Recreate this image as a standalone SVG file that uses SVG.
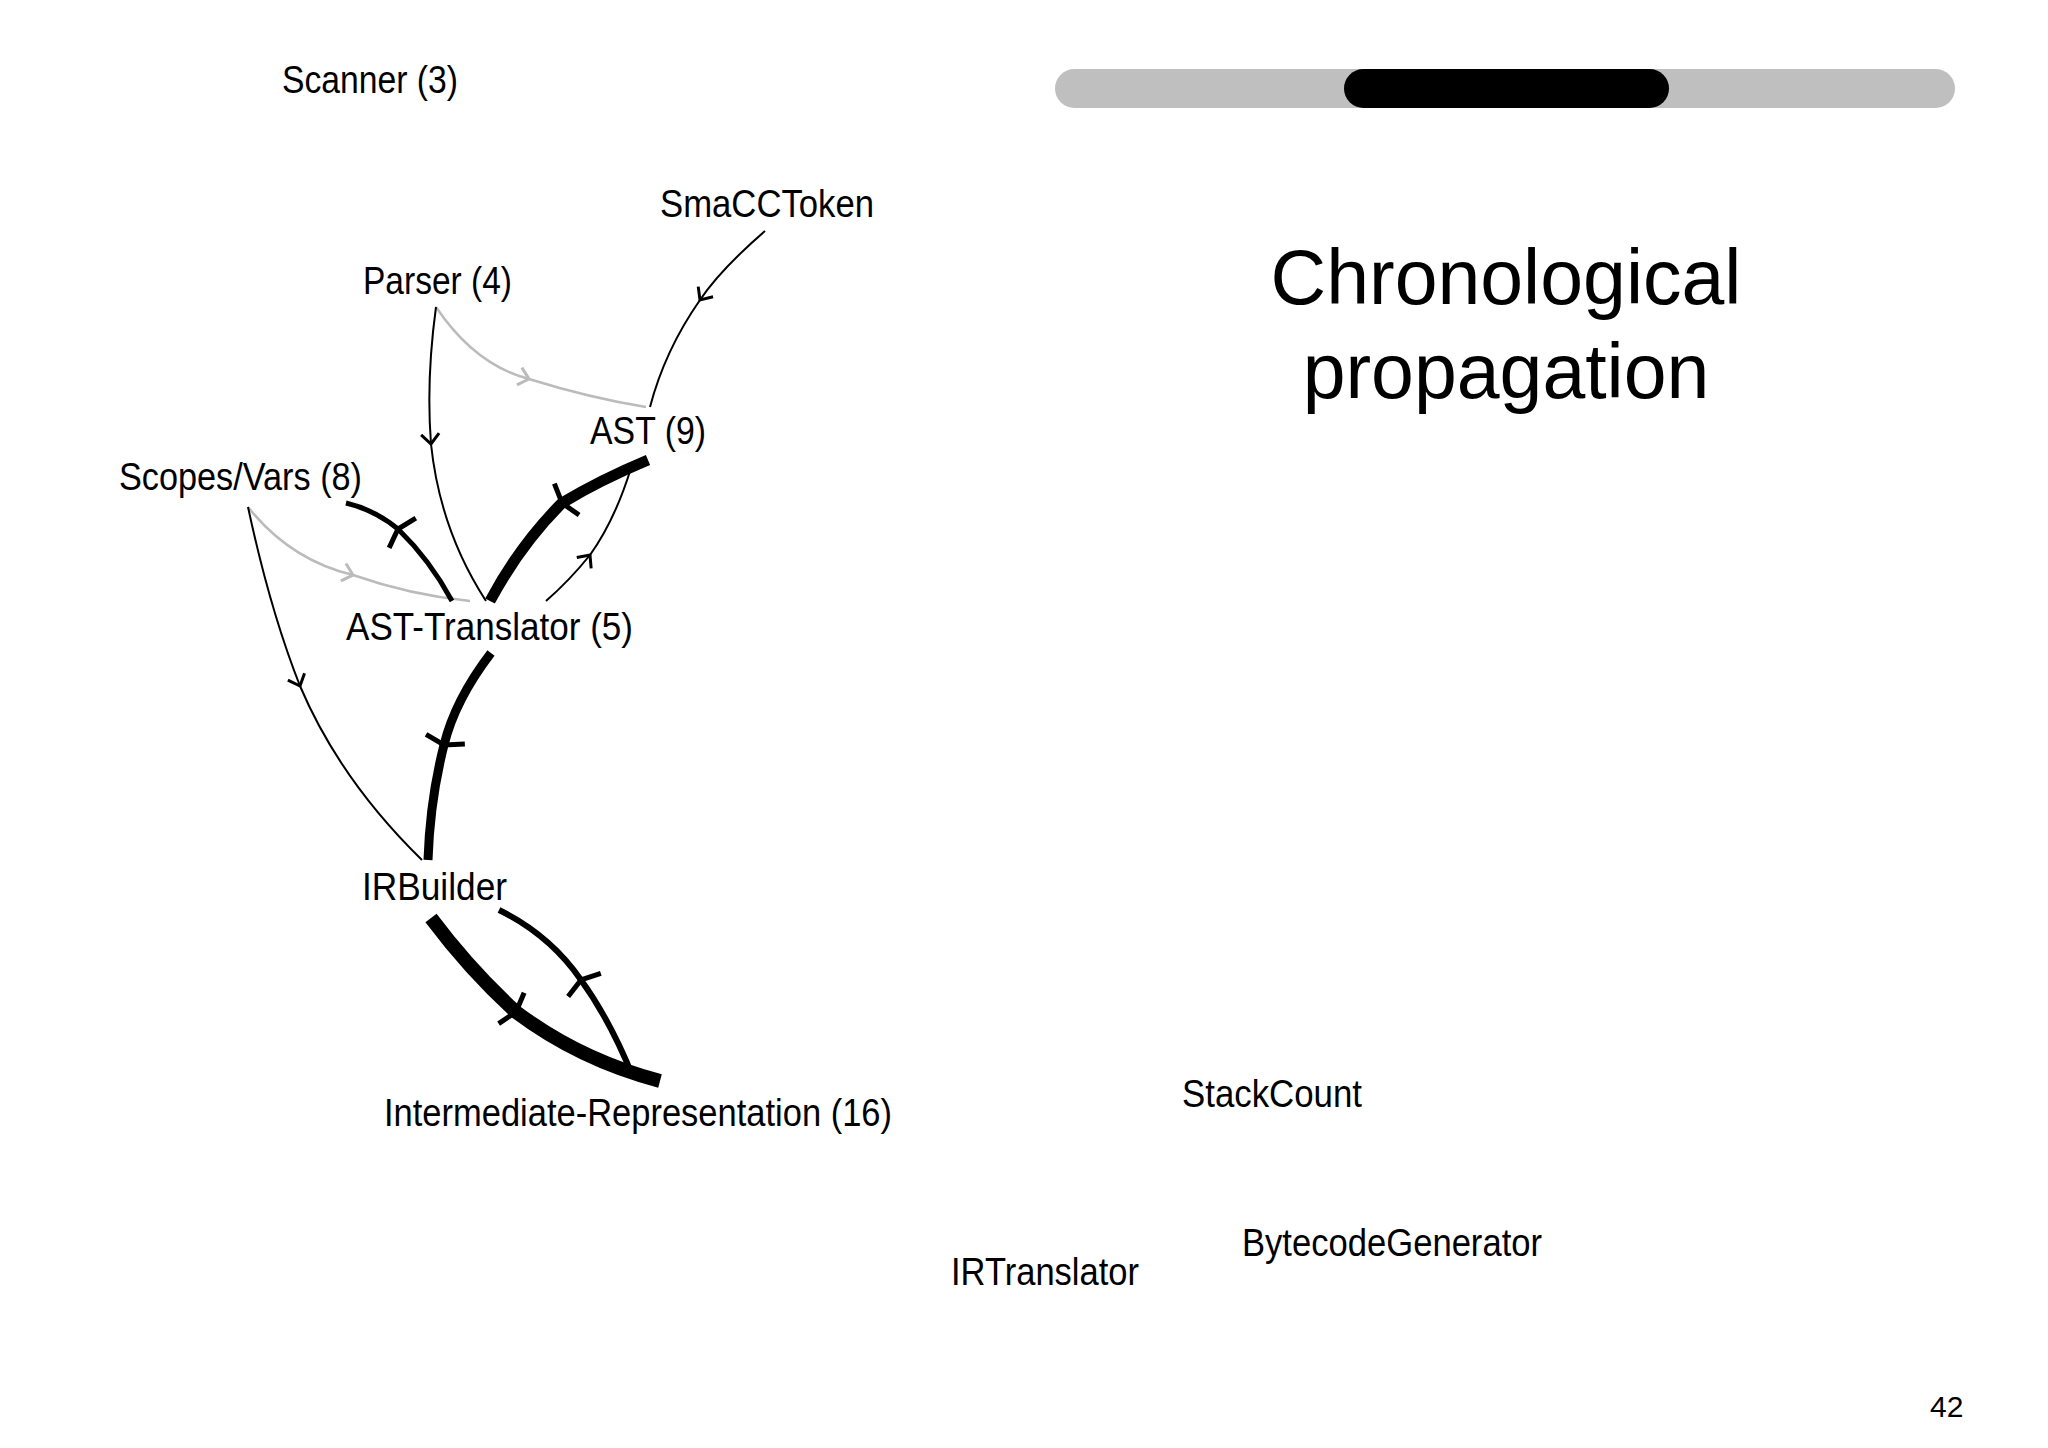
<svg xmlns="http://www.w3.org/2000/svg" width="2048" height="1448" viewBox="0 0 2048 1448">
<style>
.lbl{font-family:"Liberation Sans",Arial,sans-serif;font-size:38px;fill:#000}
.title{font-family:"Liberation Sans",Arial,sans-serif;font-size:77px;fill:#000;text-anchor:middle}
.e{fill:none;stroke:#000;stroke-width:2}
.g{fill:none;stroke:#bbb;stroke-width:2.5;marker-mid:url(#ag)}
.k{marker-mid:url(#ak)}
.kb{marker-mid:url(#akb)}
</style>
<defs>
<marker id="ak" markerUnits="userSpaceOnUse" markerWidth="30" markerHeight="30" refX="0" refY="0" viewBox="-15 -15 30 30" orient="auto"><path d="M-10,-9 L0,0 L-10,9" fill="none" stroke="#000" stroke-width="3"/></marker>
<marker id="akb" markerUnits="userSpaceOnUse" markerWidth="50" markerHeight="50" refX="0" refY="0" viewBox="-25 -25 50 50" orient="auto"><path d="M-6,-20 L0,0 L-6,20" fill="none" stroke="#000" stroke-width="5"/></marker>
<marker id="ag" markerUnits="userSpaceOnUse" markerWidth="30" markerHeight="30" refX="0" refY="0" viewBox="-15 -15 30 30" orient="auto"><path d="M-10,-9 L0,0 L-10,9" fill="none" stroke="#bbb" stroke-width="3"/></marker>
</defs>
<rect width="2048" height="1448" fill="#fff"/>
<g id="progress">
<rect x="1055" y="69" width="900" height="39" rx="19.5" fill="#bfbfbf"/>
<rect x="1344" y="69" width="325" height="39" rx="19.5" fill="#000"/>
</g>
<g id="title">
<text class="title" x="1506" y="304">Chronological</text>
<text class="title" x="1506" y="398">propagation</text>
</g>
<g id="connectors">
<path class="e k" d="M765,231 Q720,270 700,300 Q665,350 650,407"/>
<path class="g" d="M436,307 Q475,365 529,379 Q590,398 646,407"/>
<path class="e k" d="M436,307 Q426,380 431,444 Q440,530 486,601"/>
<path class="e kb" style="stroke-width:11" d="M648,460 Q600,480 562,503 Q520,545 490,601"/>
<path class="e k" d="M546,601 Q570,580 590,555 Q615,520 631,468"/>
<path class="g" d="M248,507 Q290,560 353,575 Q410,595 470,601"/>
<path class="e kb" style="stroke-width:5" d="M452,601 Q430,560 398,529 Q375,510 346,503"/>
<path class="e k" d="M248,507 Q270,610 300,686 Q340,780 422,860"/>
<path class="e kb" style="stroke-width:9" d="M491,653 Q455,700 444,745 Q430,800 428,860"/>
<path class="e kb" style="stroke-width:14" d="M431,918 Q470,970 516,1012 Q580,1060 660,1081"/>
<path class="e kb" style="stroke-width:6" d="M633,1077 Q610,1020 581,980 Q550,935 499,910"/>
</g>
<g id="n-scanner"><text class="lbl" x="282" y="93" textLength="176" lengthAdjust="spacingAndGlyphs">Scanner (3)</text></g>
<g id="n-smacctoken"><text class="lbl" x="660" y="217" textLength="214" lengthAdjust="spacingAndGlyphs">SmaCCToken</text></g>
<g id="n-parser"><text class="lbl" x="363" y="294" textLength="149" lengthAdjust="spacingAndGlyphs">Parser (4)</text></g>
<g id="n-ast"><text class="lbl" x="590" y="444" textLength="116" lengthAdjust="spacingAndGlyphs">AST (9)</text></g>
<g id="n-scopes"><text class="lbl" x="119" y="490" textLength="243" lengthAdjust="spacingAndGlyphs">Scopes/Vars (8)</text></g>
<g id="n-asttranslator"><text class="lbl" x="346" y="640" textLength="287" lengthAdjust="spacingAndGlyphs">AST-Translator (5)</text></g>
<g id="n-irbuilder"><text class="lbl" x="362" y="900" textLength="145" lengthAdjust="spacingAndGlyphs">IRBuilder</text></g>
<g id="n-ir"><text class="lbl" x="384" y="1126" textLength="508" lengthAdjust="spacingAndGlyphs">Intermediate-Representation (16)</text></g>
<g id="n-stackcount"><text class="lbl" x="1182" y="1107" textLength="180" lengthAdjust="spacingAndGlyphs">StackCount</text></g>
<g id="n-bytecode"><text class="lbl" x="1242" y="1256" textLength="300" lengthAdjust="spacingAndGlyphs">BytecodeGenerator</text></g>
<g id="n-irtranslator"><text class="lbl" x="951" y="1285" textLength="188" lengthAdjust="spacingAndGlyphs">IRTranslator</text></g>
<g id="page"><text class="lbl" x="1930" y="1417" style="font-size:30px">42</text></g>
</svg>
